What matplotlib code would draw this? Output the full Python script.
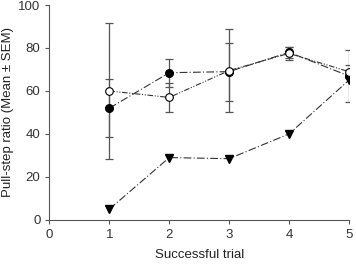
import matplotlib
matplotlib.use("Agg")
import matplotlib.pyplot as plt

# data
trial = [1, 2, 3, 4, 5]
filled_mean = [52, 68.5, 69, 78, 67]
filled_sem = [13.5, 6.5, 13.5, 2.5, 12]
open_mean = [60, 57, 69.5, 77.5, 69]
open_sem = [31.5, 6.7, 19.5, 3, 3]
tri_mean = [5, 29, 28.5, 40, 65]

plt.rcParams.update({"font.family": ["Liberation Sans", "DejaVu Sans"], "font.size": 9.5})

fig = plt.figure(figsize=(3.56, 2.64), dpi=100)
ax = fig.add_axes([0.139, 0.167, 0.841, 0.814])

gray = "#555555"
ax.errorbar(trial, open_mean, yerr=open_sem, fmt="none", ecolor=gray, elinewidth=0.9,
            capsize=3, capthick=0.9, zorder=2)
ax.errorbar(trial, filled_mean, yerr=filled_sem, fmt="none", ecolor=gray, elinewidth=0.9,
            capsize=3, capthick=0.9, zorder=2)

ax.plot(trial, tri_mean, color="#333333", lw=0.8, dashes=(7, 2, 1, 2),
        marker="v", ms=5.5, mfc="black", mec="black", zorder=3)
ax.plot(trial, filled_mean, color="#333333", lw=0.8, dashes=(7, 2, 1, 2),
        marker="o", ms=5.5, mfc="black", mec="black", zorder=4)
ax.plot(trial, open_mean, color="#333333", lw=0.8, dashes=(5, 1.5, 1, 1.5, 1, 1.5),
        marker="o", ms=5.5, mfc="white", mec="black", mew=0.8, zorder=5)

ax.set_xlim(0, 5)
ax.set_ylim(0, 100)
ax.set_xticks([0, 1, 2, 3, 4, 5])
ax.set_yticks([0, 20, 40, 60, 80, 100])
for s in ["top", "right"]:
    ax.spines[s].set_visible(False)
for s in ["left", "bottom"]:
    ax.spines[s].set_color(gray)
    ax.spines[s].set_linewidth(0.8)
ax.tick_params(colors=gray, labelcolor="#333333", length=3, width=0.8)
ax.set_xlabel("Successful trial", color="#222222", labelpad=6)
ax.set_ylabel("Pull-step ratio (Mean ± SEM)", color="#222222", labelpad=3)
for lab in ax.get_xticklabels() + ax.get_yticklabels():
    lab.set_clip_on(False)

fig.savefig("out.png", dpi=100)
